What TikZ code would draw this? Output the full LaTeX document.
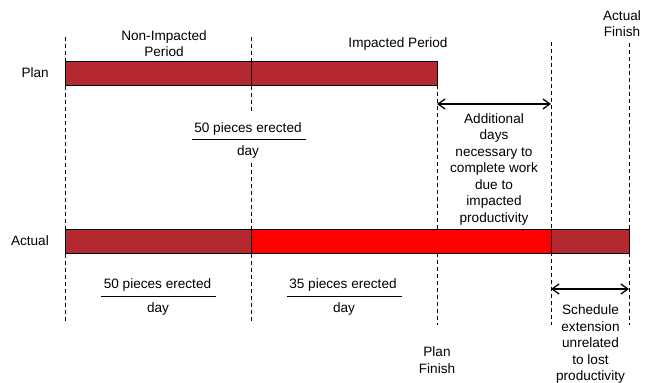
\documentclass[tikz,border=0pt]{standalone}
\usepackage{fontspec}
\setmainfont{Liberation Sans}
\usetikzlibrary{arrows.meta}
\definecolor{barred}{RGB}{181,41,48}
\definecolor{hotred}{RGB}{255,0,0}
\begin{document}
\begin{tikzpicture}[x=1pt,y=1pt,
  lbl/.style={inner sep=0pt, align=center, font=\fontsize{13.6}{16.5}\selectfont},
  guide/.style={line width=0.9pt, dash pattern=on 4pt off 3pt},
  seg/.style={draw=black, line width=0.9pt},
  span/.style={line width=1.3pt, {Straight Barb[length=7pt,width=10pt]}-{Straight Barb[length=7pt,width=10pt]}},
  rule/.style={line width=0.9pt}]
\useasboundingbox (0,0) rectangle (646,383);

% milestone guide lines
\coordinate (s0) at (65,346);   \coordinate (s1) at (65,61);
\coordinate (m0) at (251,346);  \coordinate (m1) at (251,270);
\coordinate (m2) at (251,220);  \coordinate (m3) at (251,61);
\coordinate (p0) at (437,298);  \coordinate (p1) at (437,58);
\coordinate (e0) at (551,341);  \coordinate (e1) at (551,58);
\coordinate (f0) at (629,340);  \coordinate (f1) at (629,58);
\draw[guide] (s0) -- (s1);
\draw[guide] (m0) -- (m1);
\draw[guide] (m2) -- (m3);
\draw[guide] (p0) -- (p1);
\draw[guide] (e0) -- (e1);
\draw[guide] (f0) -- (f1);

% plan bar
\draw[seg, fill=barred] (65,298) rectangle (251,322);
\draw[seg, fill=barred] (251,298) rectangle (437,322);

% actual bar
\draw[seg, fill=barred] (65,130) rectangle (251,154);
\draw[seg, fill=hotred] (251,130) rectangle (551,154);
\draw[seg, fill=barred] (551,130) rectangle (629,154);

% row labels
\node[lbl, anchor=east] (plan) at (49,310) {Plan};
\node[lbl, anchor=east] (actual) at (49,142) {Actual};

% period and milestone labels
\node[lbl] (nonimp) at (164,339.5) {Non-Impacted\\Period};
\node[lbl] (imp) at (398,339) {Impacted Period};
\node[lbl] (actfin) at (622,359.5) {Actual\\Finish};
\node[lbl] (planfin) at (437,23) {Plan\\Finish};

% production rates
\node[lbl] (r1num) at (248,254) {50 pieces erected};
\node[lbl] (r1den) at (248,231) {day};
\draw[rule] (192,244) coordinate (r1a) -- (306,244) coordinate (r1b);

\node[lbl] (r2num) at (157.5,98) {50 pieces erected};
\node[lbl] (r2den) at (158,74) {day};
\draw[rule] (101,87) coordinate (r2a) -- (216,87) coordinate (r2b);

\node[lbl] (r3num) at (343,98) {35 pieces erected};
\node[lbl] (r3den) at (344,74) {day};
\draw[rule] (287,87) coordinate (r3a) -- (402,87) coordinate (r3b);

% duration spans
\coordinate (a0) at (437,279);
\coordinate (a1) at (551,279);
\draw[span] (a0) -- (a1);
\node[lbl] (addl) at (494,214) {Additional\\days\\necessary to\\complete work\\due to\\impacted\\productivity};

\coordinate (b0) at (551,94);
\coordinate (b1) at (629,94);
\draw[span] (b0) -- (b1);
\node[lbl] (sched) at (590.5,39) {Schedule\\extension\\unrelated\\to lost\\productivity};
\end{tikzpicture}
\end{document}
